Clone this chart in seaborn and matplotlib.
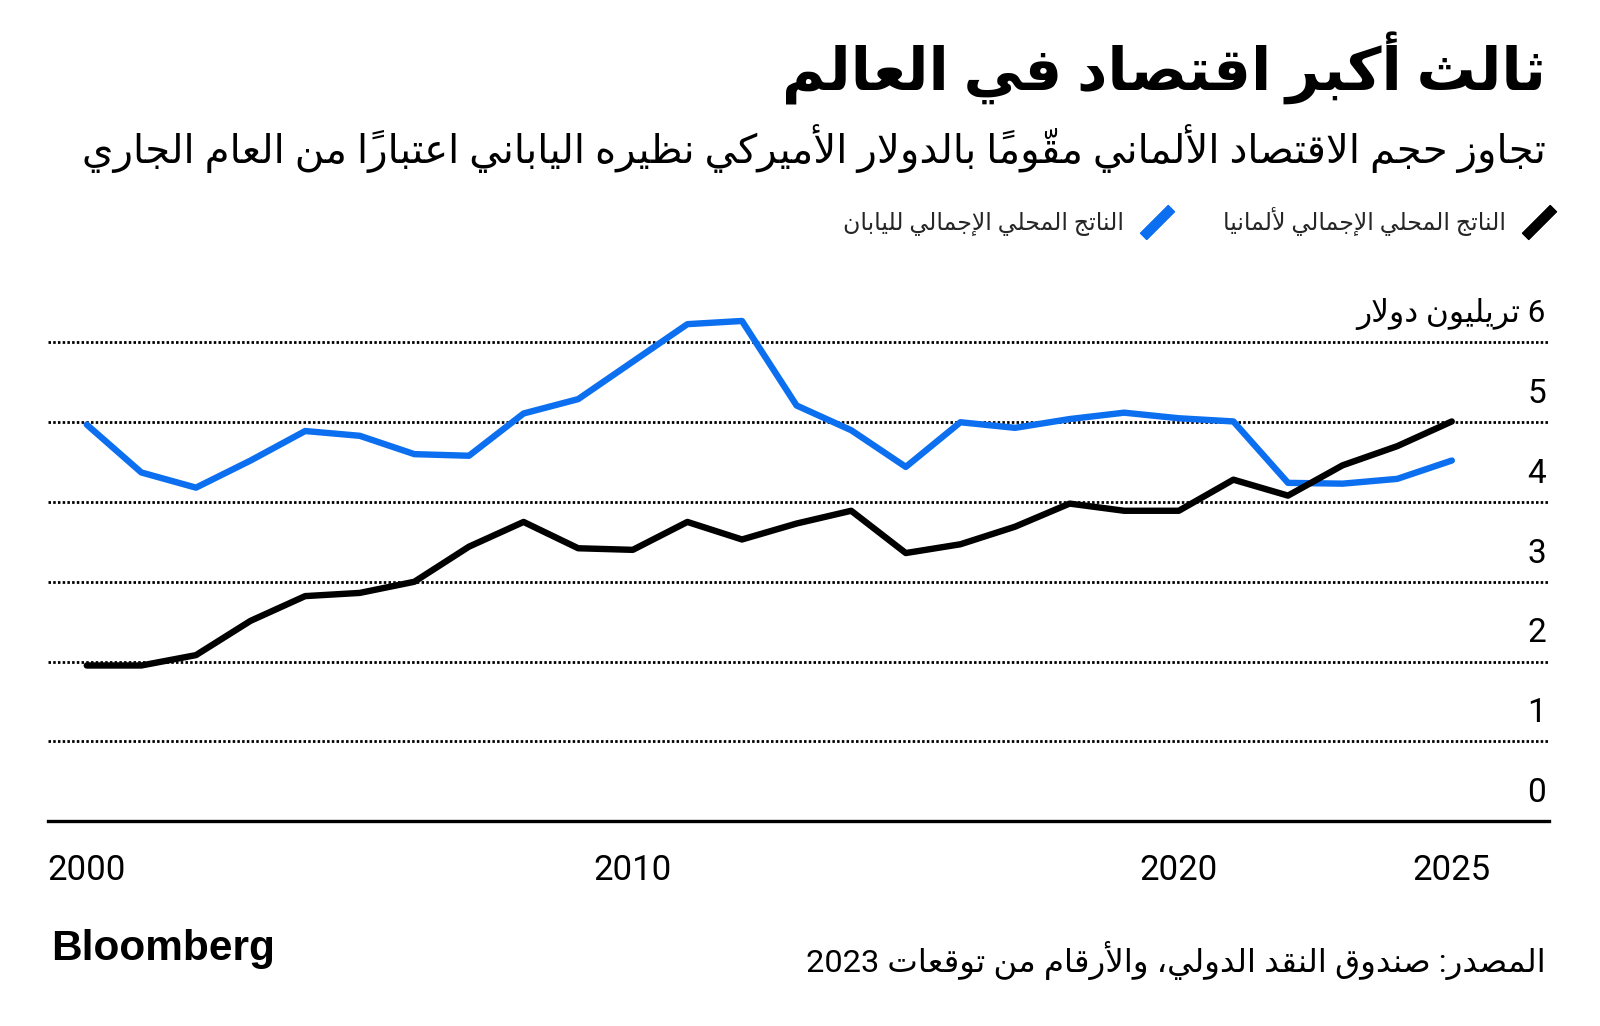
import re
import numpy as np
import pandas as pd
import matplotlib
matplotlib.use("Agg")
import matplotlib.pyplot as plt
import matplotlib.transforms as mtransforms
from matplotlib.lines import Line2D
import seaborn as sns

# ---- data (trillion US$) ----
years = list(range(2000, 2026))
germany = [1.95, 1.95, 2.08, 2.51, 2.82, 2.86, 3.00, 3.44, 3.75, 3.42,
           3.40, 3.75, 3.53, 3.73, 3.89, 3.36, 3.47, 3.69, 3.98, 3.89,
           3.89, 4.28, 4.08, 4.46, 4.70, 5.01]
japan = [4.97, 4.37, 4.18, 4.52, 4.89, 4.83, 4.60, 4.58, 5.11, 5.29,
         5.76, 6.23, 6.27, 5.21, 4.90, 4.44, 5.00, 4.93, 5.04, 5.12,
         5.05, 5.01, 4.24, 4.23, 4.29, 4.52]
ytick_values = [0, 1, 2, 3, 4, 5, 6]
xtick_values = [2000, 2010, 2020, 2025]

title = "ثالث أكبر اقتصاد في العالم"
subtitle = "تجاوز حجم الاقتصاد الألماني مقوّماً بالدولار الأميركي نظيره الياباني اعتباراً من العام الجاري"
label_germany = "الناتج المحلي الإجمالي لألمانيا"
label_japan = "الناتج المحلي الإجمالي لليابان"
unit_label = "6 تريليون دولار"
source = "المصدر: صندوق النقد الدولي، والأرقام من توقعات 2023"

BLUE = "#0b6ff0"


# ---- minimal Arabic shaping (matplotlib has no bidi / joining) ----
def _build_forms():
    forms = {}
    code = 0xFE80
    spec = [(0x621, [1, 2, 2, 2, 2, 4, 2, 4, 2, 4, 4, 4, 4, 4, 2, 2, 2, 2] + [4] * 8),
            (0x641, [4] * 7 + [2, 2, 4])]
    for start, counts in spec:
        for i, n in enumerate(counts):
            forms[chr(start + i)] = [chr(code + k) for k in range(n)]
            code += n
    return forms


FORMS = _build_forms()
LAM_ALEF = {"آ": 0xFEF5, "أ": 0xFEF7, "إ": 0xFEF9, "ا": 0xFEFB}
MARKS = set(chr(c) for c in range(0x64B, 0x653))


def _shape(text):
    chars = list(text)
    n = len(chars)
    out = []
    i = 0
    while i < n:
        c = chars[i]
        if c in FORMS:
            j = i - 1
            while j >= 0 and chars[j] in MARKS:
                j -= 1
            prev = chars[j] if j >= 0 else None
            join_prev = prev in FORMS and len(FORMS[prev]) == 4
            k = i + 1
            while k < n and chars[k] in MARKS:
                k += 1
            nxt = chars[k] if k < n else None
            if c == "ل" and nxt in LAM_ALEF:
                cluster = chr(LAM_ALEF[nxt] + (1 if join_prev else 0))
                i = k + 1
                while i < n and chars[i] in MARKS:
                    cluster += chars[i]
                    i += 1
                out.append(cluster)
                continue
            join_next = len(FORMS[c]) == 4 and nxt in FORMS and len(FORMS[nxt]) > 1
            idx = 3 if (join_prev and join_next) else 1 if join_prev else 2 if join_next else 0
            cluster = FORMS[c][idx]
        else:
            cluster = c
        i += 1
        while i < n and chars[i] in MARKS:
            cluster += chars[i]
            i += 1
        out.append(cluster)
    return out


def ar(text):
    runs = []
    for cl in _shape(text):
        ltr = bool(re.match(r"[A-Za-z0-9]", cl))
        if runs and runs[-1][0] == ltr:
            runs[-1][1].append(cl)
        else:
            runs.append([ltr, [cl]])
    parts = []
    for ltr, cls in reversed(runs):
        parts.append("".join(cls) if ltr else "".join(reversed(cls)))
    return "".join(parts)


# ---- plot ----
sns.set_theme(style="white")
plt.rcParams["font.family"] = ["Roboto", "DejaVu Sans"]

W, H = 1600, 1026
fig = plt.figure(figsize=(W / 100, H / 100), dpi=100)
fig.patch.set_facecolor("white")

ymax = 6.4
ax = fig.add_axes([48 / W, (H - 821) / H, (1549 - 48) / W, ymax * 79.75 / H])

df = pd.DataFrame({
    "year": years * 2,
    "gdp": germany + japan,
    "country": ["germany"] * len(years) + ["japan"] * len(years),
})
sns.lineplot(data=df, x="year", y="gdp", hue="country",
             hue_order=["japan", "germany"],
             palette={"germany": "black", "japan": BLUE},
             linewidth=4.6, legend=False, ax=ax, zorder=3)

ax.set_xlim(1999.29, 2026.78)
ax.set_ylim(0, ymax)
for y in ytick_values[1:]:
    ax.axhline(y, color="black", lw=2.0, ls=(0, (0.9, 0.8)), zorder=1)

for s in ["top", "left", "right"]:
    ax.spines[s].set_visible(False)
ax.spines["bottom"].set_color("black")
ax.spines["bottom"].set_linewidth(2.4)
ax.set_xlabel("")
ax.set_ylabel("")
ax.set_yticks([])
ax.set_xticks(xtick_values)
ax.set_xticklabels([str(v) for v in xtick_values])
ax.tick_params(axis="x", direction="out", length=16, width=1.5, color="black",
               pad=8, labelsize=25, labelcolor="black")

lab_tr = mtransforms.offset_copy(ax.get_yaxis_transform(), fig=fig, x=0, y=12, units="dots")
for v in ytick_values:
    txt = ar(unit_label) if v == 6 else str(v)
    ax.text(0.998, v, txt, transform=lab_tr, ha="right", va="bottom",
            fontsize=22.5 if v == 6 else 24, color="black")

# ---- titles ----
fig.text(1546 / W, 1 - 68 / H, ar(title), ha="right", va="center",
         fontsize=42.7, fontweight="bold", color="black")
fig.text(1546 / W, 1 - 149 / H, ar(subtitle), ha="right", va="center",
         fontsize=29, color="black")

# ---- legend ----
handles = [
    Line2D([], [], color=BLUE, marker=(2, 2, -45), linestyle="none",
           markersize=29, markeredgewidth=7),
    Line2D([], [], color="black", marker=(2, 2, -45), linestyle="none",
           markersize=29, markeredgewidth=7),
]
fig.legend(handles, [ar(label_japan), ar(label_germany)], ncol=2,
           markerfirst=False, frameon=False, fontsize=17,
           loc="center right", bbox_to_anchor=(1553 / W, 1 - 222 / H),
           handlelength=1.2, handletextpad=0.8, columnspacing=2.2,
           borderaxespad=0, borderpad=0)

# ---- footer ----
fig.text(51 / W, 1 - 949 / H, "Bloomberg", ha="left", va="center",
         fontsize=30.5, fontweight="bold", family="Liberation Sans", color="black")
fig.text(1546 / W, 1 - 960 / H, ar(source), ha="right", va="center",
         fontsize=23.4, color="black")

fig.savefig("out.png", dpi=100, facecolor="white")
